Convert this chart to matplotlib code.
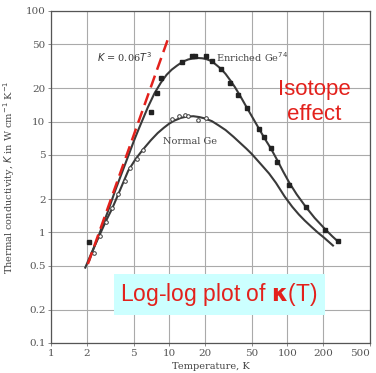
import matplotlib
matplotlib.use("Agg")
import matplotlib.pyplot as plt
import numpy as np

# --- data ---
enr_curve_T = [2.1, 2.3, 2.5, 2.75, 3.0, 3.5, 4.0, 4.6, 5.0, 5.5, 6.0, 6.6, 7.5, 8.5, 9.5, 10.5, 11.6, 13, 14.5, 16, 17.5, 19, 20.5, 22, 24, 26, 28, 30, 33, 36, 40, 45, 50, 58, 65, 72, 82, 92, 104, 120, 143, 170, 210, 240, 270]
enr_curve_K = [0.55, 0.72, 0.9, 1.18, 1.5, 2.4, 3.5, 5.2, 6.6, 8.5, 10.6, 13.5, 18, 22.5, 26.5, 29.5, 32, 34.8, 36.5, 37.3, 37.6, 37.4, 36.8, 35.8, 33.8, 31.5, 29.3, 27, 23.5, 20.5, 17, 13.6, 11.2, 8.5, 6.9, 5.8, 4.5, 3.55, 2.8, 2.2, 1.7, 1.35, 1.06, 0.92, 0.82]
enr_pts_T = [2.1, 6.97, 7.9, 8.6, 12.8, 15.5, 16.5, 20.6, 23, 27.5, 33, 38, 45.8, 57.6, 64, 72, 82, 104, 143, 210, 270]
enr_pts_K = [0.81, 12.3, 18.2, 25, 34.5, 39, 39, 39, 35.5, 30, 22.4, 17.5, 13.3, 8.5, 7.2, 5.8, 4.3, 2.7, 1.68, 1.06, 0.83]

nor_curve_T = [1.95, 2.2, 2.5, 2.9, 3.3, 3.8, 4.5, 5.2, 6.0, 7.0, 8.0, 9.0, 10, 11, 12.5, 14, 16, 18, 20, 23, 26, 30, 35, 40, 45, 50, 60, 70, 80, 95, 110, 125, 140, 160, 180, 203, 243]
nor_curve_K = [0.48, 0.65, 0.88, 1.25, 1.65, 2.35, 3.6, 4.6, 5.6, 6.8, 7.9, 8.8, 9.6, 10.2, 10.8, 11.1, 11.2, 11.0, 10.7, 10.1, 9.3, 8.4, 7.3, 6.4, 5.7, 5.1, 4.1, 3.4, 2.8, 2.1, 1.7, 1.45, 1.28, 1.12, 1.0, 0.9, 0.76]
nor_pts_T = [2.3, 2.6, 2.9, 3.3, 3.7, 4.2, 4.7, 5.3, 6.0, 10.6, 12, 13.5, 14.5, 17.5, 20.5]
nor_pts_K = [0.65, 0.92, 1.25, 1.65, 2.2, 2.9, 3.8, 4.6, 5.6, 10.6, 11.2, 11.4, 11.3, 10.4, 10.9]

fit_T = [2.05, 10.0]
fit_coef = 0.06

x_ticks = [1, 2, 5, 10, 20, 50, 100, 200, 500]
x_labels = ["1", "2", "5", "10", "20", "50", "100", "200", "500"]
y_ticks = [0.1, 0.2, 0.5, 1, 2, 5, 10, 20, 50, 100]
y_labels = ["0.1", "0.2", "0.5", "1", "2", "5", "10", "20", "50", "100"]

serif = ["DejaVu Serif"]
ink = "#3a3a3a"
red = "#e3211c"

fig = plt.figure(figsize=(3.76, 3.73), dpi=100)
ax = fig.add_axes([51/376, 1-343/373, (370-51)/376, (343-11)/373])
ax.set_xscale("log")
ax.set_yscale("log")
ax.set_xlim(1, 500)
ax.set_ylim(0.1, 100)

ax.set_xticks(x_ticks)
ax.set_xticklabels(x_labels, fontfamily=serif, fontsize=7.5, color="#555555")
ax.get_xticklabels()[-1].set_horizontalalignment("right")
ax.set_yticks(y_ticks)
ax.set_yticklabels(y_labels, fontfamily=serif, fontsize=7.5, color="#555555")
ax.minorticks_off()
ax.tick_params(length=2, width=0.6, color="#777777", pad=2)
ax.grid(True, color="#aaaaaa", lw=0.8)
for s in ax.spines.values():
    s.set_color("#555555")
    s.set_linewidth(0.9)

ax.plot(nor_curve_T, nor_curve_K, color=ink, lw=1.5, zorder=3)
ax.plot(nor_pts_T, nor_pts_K, 'o', ms=2.6, mfc="white", mec=ink, mew=0.7, zorder=4)
ax.plot(enr_curve_T, enr_curve_K, color=ink, lw=1.5, zorder=3)
ax.plot(enr_pts_T, enr_pts_K, 's', ms=2.4, color="#222222", zorder=4)

fT = np.array(fit_T)
ax.plot(fT, fit_coef * fT**3, color=red, lw=1.8, dashes=(5, 2.5), zorder=5)

ax.text(2.45, 38, r"$K$ = 0.06$T^3$", fontfamily=serif, fontsize=7, color="#333333", va="center")
ax.text(25, 38.5, r"Enriched Ge$^{74}$", fontfamily=serif, fontsize=7, color="#444444", va="center")
ax.text(8.9, 6.6, "Normal Ge", fontfamily=serif, fontsize=7, color="#444444", va="center")

ax.text(0.825, 0.726, "Isotope\neffect", transform=ax.transAxes, ha="center", va="center",
        fontfamily=["Liberation Sans"], fontsize=16, color=red, linespacing=1.3)
ax.text(0.527, 0.145, r"Log-log plot of $\mathbf{\kappa}$(T)", transform=ax.transAxes,
        ha="center", va="center", fontfamily=["Liberation Sans"], fontsize=16.5, color=red,
        bbox=dict(boxstyle="square,pad=0.3", fc="#ccffff", ec="none"), zorder=6)

ax.set_xlabel("Temperature, K", fontfamily=serif, fontsize=7, color="#444444", labelpad=3)
ax.set_ylabel(r"Thermal conductivity, $K$ in W cm$^{-1}$ K$^{-1}$", fontfamily=serif,
              fontsize=7, color="#444444", labelpad=6)

fig.savefig("out.png", dpi=100)
